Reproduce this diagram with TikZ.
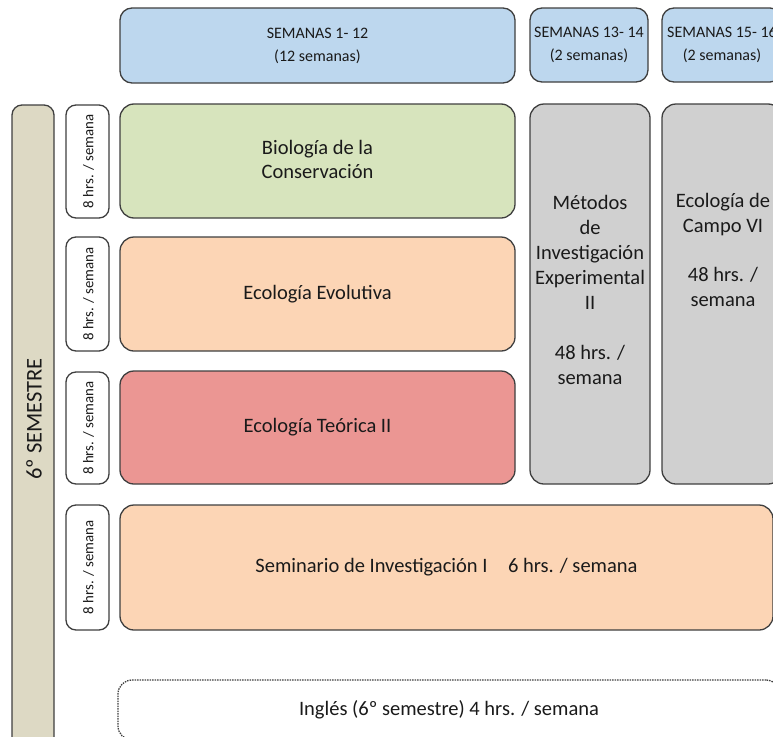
\documentclass[tikz,border=0pt]{standalone}
\usepackage{fontspec}
\setmainfont{Carlito}
\definecolor{bluefill}{HTML}{BDD7EE}
\definecolor{greenfill}{HTML}{D7E4BD}
\definecolor{peachfill}{HTML}{FCD5B5}
\definecolor{redfill}{HTML}{EB9693}
\definecolor{grayfill}{HTML}{D0D0D0}
\definecolor{tanfill}{HTML}{DDD9C4}
\definecolor{edge}{HTML}{3F3F3F}
\definecolor{txt}{HTML}{1A1A1A}
\tikzset{
  box/.style={draw=edge, line width=1.3pt, rounded corners=14pt, inner sep=0pt, align=center, text=txt, font=\fontsize{20.5}{24.5}\selectfont},
  smallbox/.style={box, rounded corners=10pt},
  weekbox/.style={box, rounded corners=12pt, fill=bluefill, font=\fontsize{16}{23}\selectfont},
  hrsbox/.style={smallbox, fill=white},
  plain/.style={inner sep=0pt, align=center, text=txt, font=\fontsize{20.5}{25}\selectfont},
  hrstext/.style={plain, rotate=90, font=\fontsize{14.8}{16}\selectfont}
}
\begin{document}
\begin{tikzpicture}[x=1pt,y=-1pt]
\useasboundingbox (0,0) rectangle (773,736);
\clip (0,0) rectangle (773,736);
% week headers
\node[weekbox, minimum width=395pt, minimum height=75pt] (w1) at (317.5,45.5) {SEMANAS 1- 12\\(12 semanas)};
\node[weekbox, minimum width=118pt, minimum height=74pt] (w2) at (589,45) {SEMANAS 13- 14\\(2 semanas)};
\node[weekbox, minimum width=120pt, minimum height=74pt] (w3) at (722,45) {SEMANAS 15- 16\\(2 semanas)};
% semester bar
\node[smallbox, fill=tanfill, minimum width=42pt, minimum height=645pt] (sem) at (33,427.5) {};
\node[plain, rotate=90, font=\fontsize{22.5}{24}\selectfont] (semtxt) at (34,419) {6º SEMESTRE};
% hours boxes
\node[hrsbox, minimum width=43pt, minimum height=113pt] (h1) at (87.5,161.5) {};
\node[hrstext] (h1t) at (88.5,161.5) {8 hrs. / semana};
\node[hrsbox, minimum width=43pt, minimum height=114pt] (h2) at (87.5,294) {};
\node[hrstext] (h2t) at (88.5,294) {8 hrs. / semana};
\node[hrsbox, minimum width=43pt, minimum height=112pt] (h3) at (87.5,428) {};
\node[hrstext] (h3t) at (88.5,428) {8 hrs. / semana};
\node[hrsbox, minimum width=43pt, minimum height=125pt] (h4) at (87.5,567.5) {};
\node[hrstext] (h4t) at (88.5,567.5) {8 hrs. / semana};
% courses
\node[box, fill=greenfill, minimum width=395pt, minimum height=114pt] (bio) at (317.5,161) {};
\node[plain, font=\fontsize{20.5}{24}\selectfont] (biot) at (317.5,159.5) {Biología de la\\Conservación};
\node[box, fill=peachfill, minimum width=395pt, minimum height=114pt] (evo) at (317.5,294) {Ecología Evolutiva};
\node[box, fill=redfill, minimum width=395pt, minimum height=113pt] (teo) at (317.5,427.5) {Ecología Teórica II};
\node[box, fill=grayfill, minimum width=120pt, minimum height=380pt] (met) at (590,294) {};
\node[plain] (mett) at (590,289.5) {Métodos\\de\\Investigación\\Experimental\\II\\[25pt]48 hrs. /\\semana};
\node[box, fill=grayfill, minimum width=120pt, minimum height=380pt] (campo) at (722,294) {};
\node[plain, anchor=north] (campot) at (723,193) {Ecología de\\Campo VI\\[24.5pt]48 hrs. /\\semana};
\node[box, fill=peachfill, minimum width=653pt, minimum height=125pt] (sem1) at (446.5,567.5) {Seminario de Investigación I\hspace{1em}6 hrs. / semana};
\node[box, dashed, dash pattern=on 1.5pt off 1pt, fill=white, minimum width=662pt, minimum height=60pt] (ing) at (449,710) {Inglés (6º semestre) 4 hrs. / semana};
\end{tikzpicture}
\end{document}
